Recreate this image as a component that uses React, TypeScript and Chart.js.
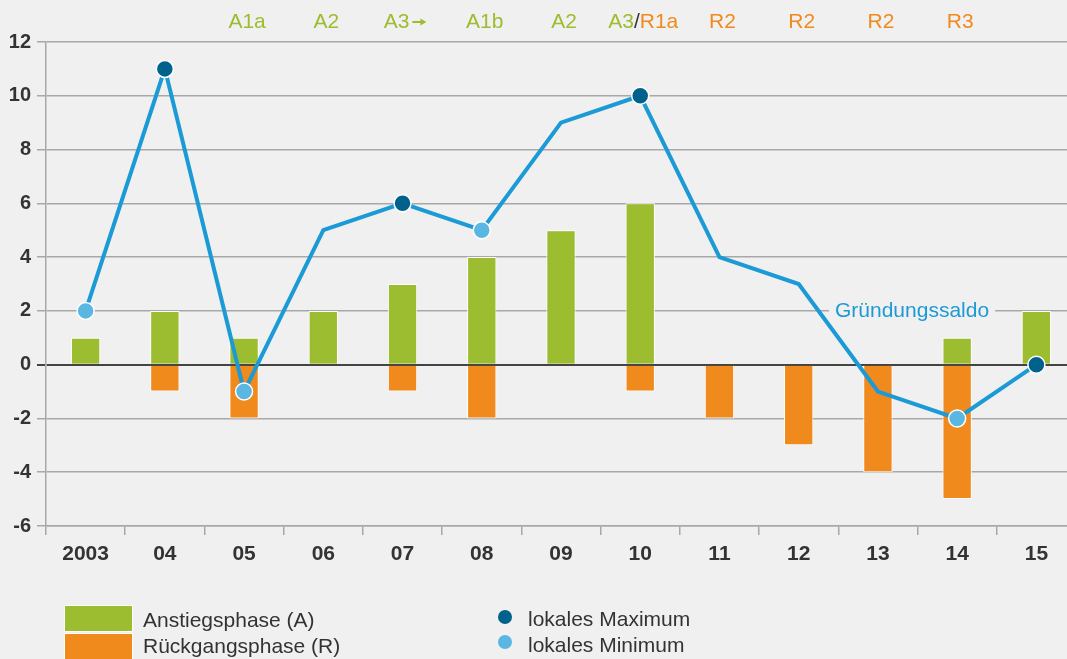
import React, { useEffect, useRef } from 'react';
import { Chart, registerables } from 'chart.js';

Chart.register(...registerables);

// ---- data ----
const years = ['2003', '04', '05', '06', '07', '08', '09', '10', '11', '12', '13', '14', '15'];
const anstieg = [1, 2, 1, 2, 3, 4, 5, 6, 0, 0, 0, 1, 2];
const rueckgang = [0, -1, -2, 0, -1, -2, 0, -1, -2, -3, -4, -5, 0];
const saldo = [2, 11, -1, 5, 6, 5, 9, 10, 4, 3, -1, -2, 0];
const extremum = ['min', 'max', 'min', '', 'max', 'min', '', 'max', '', '', '', 'min', 'max'];
const phaseLabels = ['', '', 'A1a', 'A2', 'A3→', 'A1b', 'A2', 'A3/R1a', 'R2', 'R2', 'R2', 'R3', ''];
const legendBars = ['Anstiegsphase (A)', 'Rückgangsphase (R)'];
const legendPoints = ['lokales Maximum', 'lokales Minimum'];
const lineLabel = 'Gründungssaldo';

const GREEN = '#9bbd2f';
const ORANGE = '#f08a1d';
const BLUE = '#1b9ad6';
const DARK = '#00618c';
const LIGHT = '#5ab7e2';
const BG = '#f0f0f0';
const TEXT = '#333333';
const FONT = '"Liberation Sans", Arial, sans-serif';

const overlayPlugin = {
  id: 'overlay',
  afterDatasetsDraw(chart: any) {
    const ctx = chart.ctx;
    const xs = chart.scales.x;
    const ys = chart.scales.y;
    ctx.save();
    // phase labels on top
    ctx.textBaseline = 'middle';
    phaseLabels.forEach((lab, i) => {
      if (!lab) return;
      ctx.font = `21px ${FONT}`;
      const cx = xs.getPixelForValue(i) + 3;
      const y = 22;
      if (lab.includes('/')) {
        const [a, r] = lab.split('/');
        const wa = ctx.measureText(a).width;
        const ws = ctx.measureText('/').width;
        const wr = ctx.measureText(r).width;
        let x = cx - (wa + ws + wr) / 2;
        ctx.textAlign = 'left';
        ctx.fillStyle = GREEN;
        ctx.fillText(a, x, y);
        x += wa;
        ctx.fillStyle = TEXT;
        ctx.fillText('/', x, y);
        x += ws;
        ctx.fillStyle = ORANGE;
        ctx.fillText(r, x, y);
      } else if (lab.includes('→')) {
        const a = lab.replace('→', '');
        const wa = ctx.measureText(a).width;
        const arrowW = 14;
        let x = cx - (wa + 4 + arrowW) / 2;
        ctx.textAlign = 'left';
        ctx.fillStyle = GREEN;
        ctx.fillText(a, x, y);
        x += wa + 3;
        ctx.strokeStyle = GREEN;
        ctx.lineWidth = 2;
        ctx.beginPath();
        ctx.moveTo(x, y);
        ctx.lineTo(x + arrowW - 4, y);
        ctx.stroke();
        ctx.beginPath();
        ctx.moveTo(x + arrowW, y);
        ctx.lineTo(x + arrowW - 6, y - 3.5);
        ctx.lineTo(x + arrowW - 6, y + 3.5);
        ctx.closePath();
        ctx.fillStyle = GREEN;
        ctx.fill();
      } else {
        ctx.textAlign = 'center';
        ctx.fillStyle = lab.startsWith('R') ? ORANGE : GREEN;
        ctx.fillText(lab, cx, y);
      }
    });
    // line label
    ctx.font = `21px ${FONT}`;
    const tw = ctx.measureText(lineLabel).width;
    const lx = 835;
    const ly = ys.getPixelForValue(2);
    ctx.fillStyle = BG;
    ctx.fillRect(lx - 6, ly - 4, tw + 12, 8);
    ctx.fillStyle = BLUE;
    ctx.textAlign = 'left';
    ctx.textBaseline = 'middle';
    ctx.fillText(lineLabel, lx, ly);
    ctx.restore();
  },
  afterDraw(chart: any) {
    const ctx = chart.ctx;
    ctx.save();
    // legend bars
    const barColors = [GREEN, ORANGE];
    legendBars.forEach((t, i) => {
      const y0 = 605 + i * 28;
      ctx.fillStyle = '#ffffff';
      ctx.fillRect(64, y0, 69, 27);
      ctx.fillStyle = barColors[i];
      ctx.fillRect(65, y0 + 1, 67, 25);
      ctx.fillStyle = TEXT;
      ctx.font = `21px ${FONT}`;
      ctx.textAlign = 'left';
      ctx.textBaseline = 'alphabetic';
      ctx.fillText(t, 143, 627 + i * 26);
    });
    const ptColors = [DARK, LIGHT];
    legendPoints.forEach((t, i) => {
      ctx.beginPath();
      ctx.arc(505, 617 + i * 25, 7, 0, Math.PI * 2);
      ctx.fillStyle = ptColors[i];
      ctx.fill();
      ctx.fillStyle = TEXT;
      ctx.font = `21px ${FONT}`;
      ctx.textAlign = 'left';
      ctx.textBaseline = 'alphabetic';
      ctx.fillText(t, 528, 626 + i * 26);
    });
    ctx.restore();
  },
};

export default function App() {
  const ref = useRef<HTMLCanvasElement | null>(null);

  useEffect(() => {
    document.body.style.margin = '0';
    document.body.style.background = BG;
    const canvas = ref.current;
    if (!canvas) return;
    const chart = new Chart(canvas, {
      type: 'bar',
      data: {
        labels: years,
        datasets: [
          {
            type: 'line',
            label: lineLabel,
            data: saldo,
            borderColor: BLUE,
            borderWidth: 4,
            tension: 0,
            fill: false,
            order: 0,
            pointRadius: extremum.map((e) => (e ? 8.5 : 0)),
            pointHoverRadius: extremum.map((e) => (e ? 8.5 : 0)),
            pointBackgroundColor: extremum.map((e) => (e === 'max' ? DARK : LIGHT)),
            pointBorderColor: '#ffffff',
            pointBorderWidth: 1.5,
          } as any,
          {
            label: legendBars[0],
            data: anstieg.map((v) => (v === 0 ? null : v)),
            backgroundColor: GREEN,
            borderColor: '#ffffff',
            borderWidth: 1,
            order: 1,
          },
          {
            label: legendBars[1],
            data: rueckgang.map((v) => (v === 0 ? null : v)),
            backgroundColor: ORANGE,
            borderColor: '#ffffff',
            borderWidth: 1,
            order: 1,
          },
        ],
      },
      options: {
        responsive: false,
        animation: false,
        events: [],
        layout: { padding: { top: 42, left: 0, right: 0, bottom: 0 } },
        datasets: { bar: { categoryPercentage: 1, barPercentage: 0.37 } },
        plugins: { legend: { display: false }, tooltip: { enabled: false } },
        scales: {
          x: {
            stacked: true,
            offset: true,
            afterFit: (s: any) => {
              s.height = 133;
            },
            grid: {
              display: true,
              drawOnChartArea: false,
              drawTicks: true,
              tickLength: 9,
              color: '#a8a8a8',
              lineWidth: 1.5,
            },
            border: { display: true, color: '#a8a8a8', width: 1.5 },
            ticks: {
              color: TEXT,
              font: { family: FONT, size: 21, weight: 'bold' },
              padding: 7,
              maxRotation: 0,
              autoSkip: false,
            },
          },
          y: {
            stacked: false,
            min: -6,
            max: 12,
            afterFit: (s: any) => {
              s.width = 46;
            },
            grid: {
              drawTicks: true,
              tickLength: 9,
              color: (c: any) => (c.tick && c.tick.value === 0 ? '#444444' : '#a8a8a8'),
              lineWidth: (c: any) => (c.tick && c.tick.value === 0 ? 2 : 1.5),
            },
            border: { display: true, color: '#a8a8a8', width: 1.5 },
            ticks: {
              stepSize: 2,
              color: TEXT,
              font: { family: FONT, size: 20, weight: 'bold' },
              padding: 6,
            },
          },
        },
      },
      plugins: [overlayPlugin],
    });
    return () => chart.destroy();
  }, []);

  return (
    <div
      style={{
        position: 'absolute',
        left: 0,
        top: 0,
        width: 1067,
        height: 659,
        overflow: 'hidden',
        background: BG,
      }}
    >
      <canvas ref={ref} width={1086} height={659} style={{ display: 'block' }} />
    </div>
  );
}
